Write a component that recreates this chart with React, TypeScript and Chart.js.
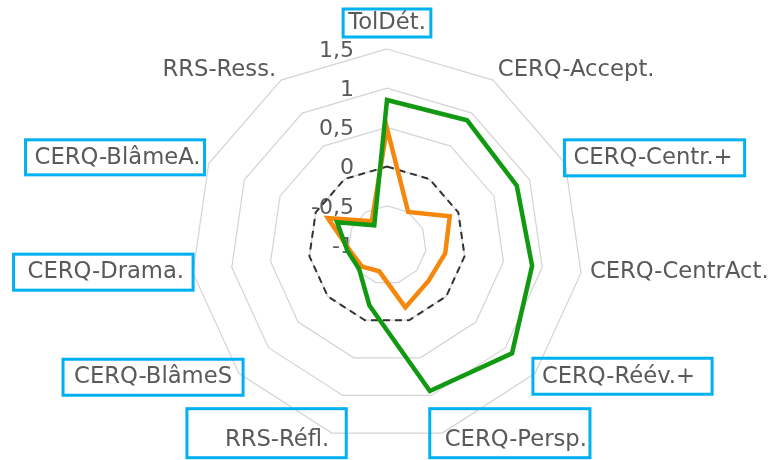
import { useEffect, useRef } from 'react';
import { Chart, registerables } from 'chart.js';

Chart.register(...registerables);

const categories = [
  'TolDét.',
  'CERQ-Accept.',
  'CERQ-Centr.+',
  'CERQ-CentrAct.',
  'CERQ-Réév.+',
  'CERQ-Persp.',
  'RRS-Réfl.',
  'CERQ-BlâmeS',
  'CERQ-Drama.',
  'CERQ-BlâmeA.',
  'RRS-Ress.',
];

const greenSeries = [0.85, 0.89, 0.82, 0.87, 1.11, 0.94, -0.2, -0.53, -0.49, -0.3, -0.7];
const orangeSeries = [0.49, -0.5, -0.12, -0.25, -0.3, -0.17, -0.65, -0.58, -0.52, -0.17, -0.64];
const zeroSeries = [0, 0, 0, 0, 0, 0, 0, 0, 0, 0, 0];

const tickMin = -1;
const tickMax = 1.5;
const tickStep = 0.5;

// label box paddings [left, right, top, bottom] around the text
const boxedLabels: Record<string, number[]> = {
  'TolDét.': [5, 5, 14, 14],
  'CERQ-Centr.+': [9, 12, 18, 18],
  'CERQ-Réév.+': [9, 17, 19, 17],
  'CERQ-Persp.': [15, 3, 31, 18],
  'RRS-Réfl.': [38, 17, 31, 18],
  'CERQ-BlâmeS': [11, 11, 18, 18],
  'CERQ-Drama.': [14, 9, 18, 18],
  'CERQ-BlâmeA.': [9, 4, 18, 17],
};

const TEXT_COLOR = '#595959';
const FONT = '"DejaVu Sans", sans-serif';

function fmt(v: number) {
  return String(v).replace('.', ',');
}

const customPlugin = {
  id: 'customRadarText',
  beforeDatasetsDraw(chart: any) {
    const s = chart.scales.r;
    const ctx = chart.ctx;
    ctx.save();
    ctx.font = `22px ${FONT}`;
    ctx.fillStyle = TEXT_COLOR;
    ctx.textAlign = 'right';
    ctx.textBaseline = 'middle';
    s.ticks.forEach((t: any) => {
      const d = s.getDistanceFromCenterForValue(t.value);
      ctx.fillText(fmt(t.value), s.xCenter - 33, s.yCenter - d + 2);
    });
    ctx.restore();
  },
  afterDraw(chart: any) {
    const s = chart.scales.r;
    const ctx = chart.ctx;
    ctx.save();
    ctx.font = `22.7px ${FONT}`;
    ctx.fillStyle = TEXT_COLOR;
    ctx.textBaseline = 'middle';
    categories.forEach((label, i) => {
      const p = s.getPointPosition(i, s.drawingArea + 9);
      let align: CanvasTextAlign;
      let y = p.y - 2;
      if (Math.abs(p.x - s.xCenter) < 2) {
        align = 'center';
        y = p.y - 17;
      } else if (p.x > s.xCenter) {
        align = 'left';
      } else {
        align = 'right';
      }
      ctx.textAlign = align;
      ctx.fillText(label, p.x, y);
      const pad = boxedLabels[label];
      if (pad) {
        const w = ctx.measureText(label).width;
        let left = p.x;
        if (align === 'center') left = p.x - w / 2;
        else if (align === 'right') left = p.x - w;
        const bx = left - pad[0];
        const bw = w + pad[0] + pad[1];
        const by = y - pad[2];
        const bh = pad[2] + pad[3];
        ctx.strokeStyle = '#00b0f0';
        ctx.lineWidth = 3;
        ctx.strokeRect(bx, by, bw, bh);
      }
    });
    ctx.restore();
  },
};

export default function App() {
  const ref = useRef<HTMLCanvasElement>(null);
  useEffect(() => {
    if (!ref.current) return;
    const chart = new Chart(ref.current, {
      type: 'radar',
      data: {
        labels: categories,
        datasets: [
          {
            label: 'Groupe 1',
            data: greenSeries,
            borderColor: '#119a11',
            backgroundColor: 'transparent',
            borderWidth: 4.5,
            pointRadius: 0,
            fill: false,
          },
          {
            label: 'Groupe 2',
            data: orangeSeries,
            borderColor: '#f4870c',
            backgroundColor: 'transparent',
            borderWidth: 4.5,
            pointRadius: 0,
            fill: false,
          },
          {
            label: 'Référence',
            data: zeroSeries,
            borderColor: '#333333',
            backgroundColor: 'transparent',
            borderWidth: 2,
            borderDash: [7, 5],
            pointRadius: 0,
            fill: false,
          },
        ],
      },
      options: {
        responsive: false,
        animation: false,
        devicePixelRatio: 1,
        layout: { padding: { top: 49, bottom: 19, left: 190, right: 189 } },
        plugins: {
          legend: { display: false },
          tooltip: { enabled: false },
        },
        elements: { line: { tension: 0, borderJoinStyle: 'miter' } },
        scales: {
          r: {
            min: tickMin,
            max: tickMax,
            ticks: { display: false, stepSize: tickStep },
            grid: { color: '#d4d4d4', lineWidth: 1.2, circular: false },
            angleLines: { display: false },
            pointLabels: { display: false },
          },
        },
      },
      plugins: [customPlugin],
    });
    return () => chart.destroy();
  }, []);
  return (
    <div style={{ position: 'fixed', left: 0, top: 0, width: 773, height: 460, background: '#fff' }}>
      <canvas ref={ref} width={773} height={460} style={{ display: 'block' }} />
    </div>
  );
}
